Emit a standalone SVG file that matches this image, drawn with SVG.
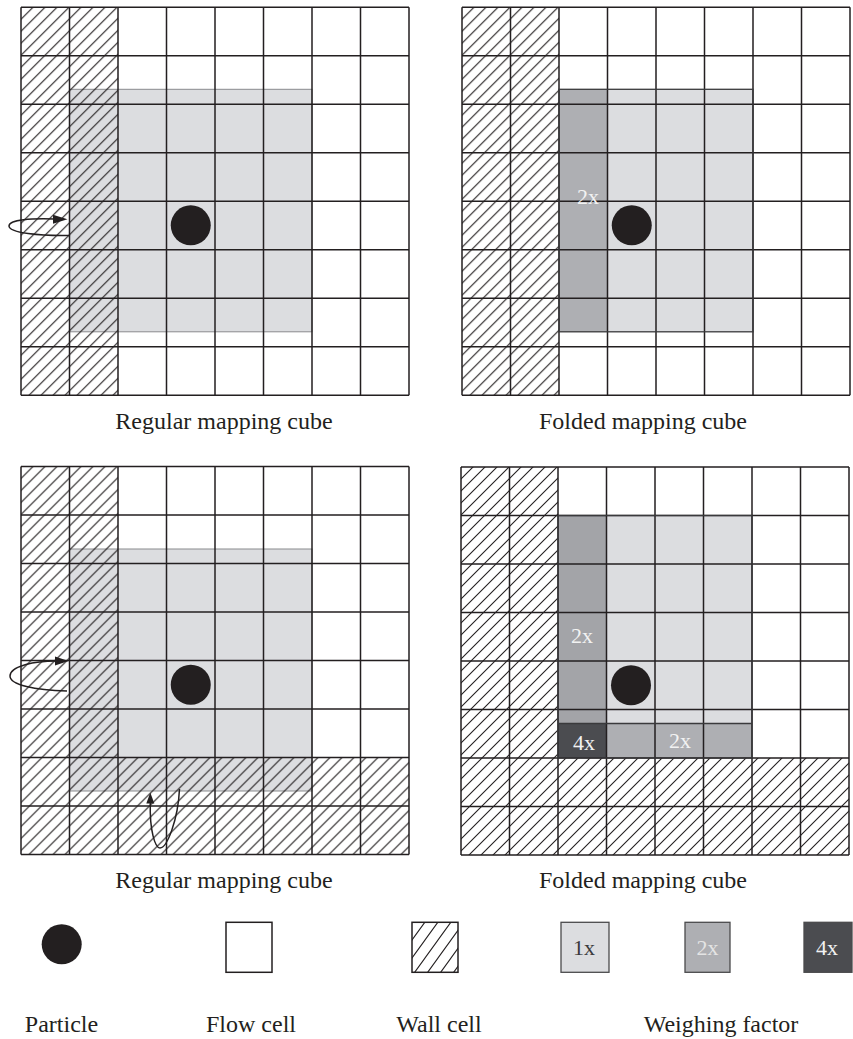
<svg xmlns="http://www.w3.org/2000/svg" xmlns:xlink="http://www.w3.org/1999/xlink" width="853" height="1039" viewBox="0 0 853 1039">
<style>
.bg{fill:#fff}
.grid{fill:none;stroke:#231f20;stroke-width:1.5}
.wall{fill:url(#hatch)}
.c1{fill:#dcdde0}
.c2{fill:#aeafb3}
.c2b{fill:#a3a4a8}
.c4{fill:#4b4c50}
.cubeR{fill:#dcdde0;stroke:#8a8b8e;stroke-width:1}
.cubeF{fill:none;stroke:#3a3a3c;stroke-width:1.3}
.part{fill:#231f20}
.lbl{font-family:"Liberation Serif","Times New Roman",serif;font-size:24px;fill:#231f20;text-anchor:middle}
.w{font-family:"Liberation Serif","Times New Roman",serif;font-size:22px;fill:#f2f2f2;text-anchor:middle}
.arr{fill:none;stroke:#231f20;stroke-width:1.5}
.head{fill:#231f20}
.box{stroke:#231f20;stroke-width:1.5}
.boxw{stroke:#4a4a4c;stroke-width:1.3}
</style>
<defs>
<pattern id="hatch" patternUnits="userSpaceOnUse" width="12" height="12">
<path d="M0,12 L12,0 M-1,1 L1,-1 M11,13 L13,11" stroke="#231f20" stroke-width="1.1" fill="none"/>
</pattern>
<pattern id="hatchL" patternUnits="userSpaceOnUse" width="13" height="18" x="412" y="922">
<path d="M0,18 L13,0 M-1,1.4 L1,-1.4 M12,19.4 L14,16.6" stroke="#231f20" stroke-width="1.1" fill="none"/>
</pattern>
<path id="gridlines" d="M0,0H388M0,48.5H388M0,97H388M0,145.5H388M0,194H388M0,242.5H388M0,291H388M0,339.5H388M0,388H388M0,0V388M48.5,0V388M97,0V388M145.5,0V388M194,0V388M242.5,0V388M291,0V388M339.5,0V388M388,0V388"/>
</defs>
<rect class="bg" x="0" y="0" width="853" height="1039"/>

<g id="panel-regular-top" transform="translate(21,7.3)">
<rect class="bg" x="0" y="0" width="388" height="388"/>
<rect class="cubeR" x="48.5" y="82" width="242.5" height="242.5"/>
<rect class="wall" x="0" y="0" width="97" height="388"/>
<use href="#gridlines" class="grid"/>
<circle class="part" cx="169.75" cy="218" r="20"/>
</g>

<g id="panel-folded-top" transform="translate(462,7.3)">
<rect class="bg" x="0" y="0" width="388" height="388"/>
<rect class="c1" x="97" y="82" width="194" height="242.5"/>
<rect class="c2" x="97" y="82" width="48.5" height="242.5"/>
<rect class="wall" x="0" y="0" width="97" height="388"/>
<use href="#gridlines" class="grid"/>
<rect class="cubeF" x="97" y="82" width="194" height="242.5"/>
<circle class="part" cx="169.75" cy="218" r="20"/>
<text class="w" x="126" y="197">2x</text>
</g>

<g id="panel-regular-bottom" transform="translate(21,466.5)">
<rect class="bg" x="0" y="0" width="388" height="388"/>
<rect class="cubeR" x="48.5" y="82.5" width="242.5" height="242"/>
<rect class="wall" x="0" y="0" width="97" height="388"/>
<rect class="wall" x="97" y="291" width="291" height="97"/>
<use href="#gridlines" class="grid"/>
<circle class="part" cx="169.75" cy="218.25" r="20"/>
</g>

<g id="panel-folded-bottom" transform="translate(461,467)">
<rect class="bg" x="0" y="0" width="388" height="388"/>
<rect class="c1" x="97" y="48.5" width="194" height="242.5"/>
<rect class="c2b" x="97" y="48.5" width="48.5" height="208"/>
<rect class="c2" x="145.5" y="256.5" width="145.5" height="34.5"/>
<rect class="c4" x="97" y="256.5" width="48.5" height="34.5"/>
<rect class="wall" x="0" y="0" width="97" height="388"/>
<rect class="wall" x="97" y="291" width="291" height="97"/>
<use href="#gridlines" class="grid"/>
<rect class="cubeF" x="97" y="48.5" width="194" height="242.5"/>
<path class="cubeF" d="M97,256.5H291"/>
<circle class="part" cx="170" cy="218.25" r="20"/>
<text class="w" x="121" y="176">2x</text>
<text class="w" x="123" y="283">4x</text>
<text class="w" x="219" y="281">2x</text>
</g>

<g id="connectors">
<path class="arr" d="M69,235.5 C40,236 9,233 9,226 C9,219 33,218.5 54,219"/>
<polygon class="head" points="53,214.8 67.5,219.3 53,223.8"/>
<path class="arr" d="M67,691 C35,690 10,685 10,676 C10,666 35,661 56,661"/>
<polygon class="head" points="55,656.5 68.5,661 55,665.5"/>
<path class="arr" d="M150.3,803 C149.5,830 155,848 160,848 C167,848 178,820 179.5,789"/>
<polygon class="head" points="146.3,803.5 150.3,792.5 154.3,803.5"/>
</g>

<g id="labels">
<text class="lbl" x="224" y="429">Regular mapping cube</text>
<text class="lbl" x="643" y="429">Folded mapping cube</text>
<text class="lbl" x="224" y="888">Regular mapping cube</text>
<text class="lbl" x="643" y="888">Folded mapping cube</text>
</g>

<g id="legend-particle">
<circle class="part" cx="61.7" cy="944.3" r="20"/>
<text class="lbl" x="61.5" y="1032">Particle</text>
</g>
<g id="legend-flow">
<rect class="bg box" x="226" y="922.3" width="46" height="50"/>
<text class="lbl" x="251" y="1032">Flow cell</text>
</g>
<g id="legend-wall">
<rect class="bg" x="412" y="922.3" width="46" height="50"/>
<rect x="412" y="922.3" width="46" height="50" fill="url(#hatchL)" class="box"/>
<text class="lbl" x="439" y="1032">Wall cell</text>
</g>
<g id="legend-weight">
<rect class="c1 boxw" x="561" y="922.3" width="48" height="50"/>
<text class="w" x="584" y="955" style="fill:#3a3a3c">1x</text>
<rect class="c2 boxw" x="685" y="922.3" width="45" height="50"/>
<text class="w" x="707.5" y="955" style="fill:#e4e4e4">2x</text>
<rect class="c4 boxw" x="804" y="922.3" width="48" height="50"/>
<text class="w" x="827" y="955">4x</text>
<text class="lbl" x="721" y="1032">Weighing factor</text>
</g>
</svg>
